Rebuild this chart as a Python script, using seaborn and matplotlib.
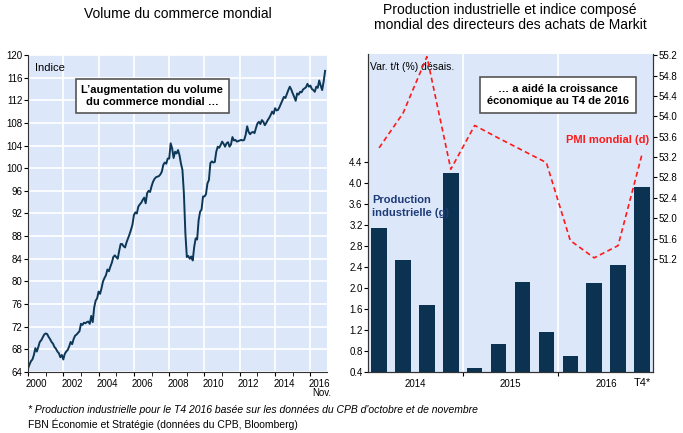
import numpy as np
import pandas as pd
import matplotlib.pyplot as plt
import matplotlib.transforms as mtransforms
import seaborn as sns

# Volume du commerce mondial (indice), mensuel, janv. 2000 - nov. 2016
trade_2000 = [64.6, 65.3, 65.9, 66.2, 67.0, 68.2, 67.6, 68.4, 69.3, 69.6, 70.1, 70.6]
trade_2001 = [70.8, 70.7, 70.2, 69.8, 69.3, 69.0, 68.4, 68.1, 67.6, 67.3, 66.6, 67.0]
trade_2002 = [66.2, 67.2, 67.6, 67.9, 68.5, 69.3, 68.9, 69.8, 70.4, 70.6, 70.9, 71.2]
trade_2003 = [72.5, 72.3, 72.7, 72.6, 72.8, 72.9, 72.5, 73.9, 72.8, 75.4, 76.6, 77.0]
trade_2004 = [78.2, 77.8, 78.8, 80.0, 80.6, 81.1, 82.1, 81.8, 82.6, 83.3, 84.3, 84.6]
trade_2005 = [84.3, 84.0, 85.4, 86.6, 86.6, 86.2, 86.0, 86.9, 87.6, 88.3, 89.1, 90.0]
trade_2006 = [91.7, 92.2, 92.0, 93.2, 93.6, 93.9, 94.4, 94.8, 93.8, 95.6, 96.0, 95.8]
trade_2007 = [96.8, 97.6, 98.1, 98.4, 98.5, 98.6, 98.9, 99.4, 100.6, 101.0, 100.8, 101.7]
trade_2008 = [101.7, 104.4, 103.5, 101.8, 102.9, 102.6, 103.2, 102.3, 100.8, 99.7, 95.5, 88.5]
trade_2009 = [84.3, 84.5, 84.0, 84.4, 83.7, 86.1, 87.6, 87.4, 90.8, 92.3, 92.7, 95.0]
trade_2010 = [95.0, 95.4, 97.3, 97.9, 100.9, 101.2, 101.0, 101.1, 102.9, 103.8, 103.6, 104.1]
trade_2011 = [104.7, 104.3, 103.8, 104.4, 104.6, 103.8, 104.2, 105.5, 104.9, 105.0, 104.7, 104.8]
trade_2012 = [104.9, 105.0, 104.9, 105.0, 105.9, 107.4, 106.4, 106.0, 106.3, 106.4, 106.2, 107.1]
trade_2013 = [107.9, 108.2, 107.8, 108.5, 108.2, 107.6, 108.0, 108.5, 108.9, 109.4, 110.0, 109.6]
trade_2014 = [110.6, 110.2, 110.3, 110.8, 111.4, 112.0, 112.6, 112.4, 113.1, 113.8, 114.4, 113.9]
trade_2015 = [113.2, 112.6, 111.9, 113.2, 113.0, 113.5, 113.4, 113.9, 114.1, 114.3, 114.9, 114.4]
trade_2016 = [114.6, 114.0, 113.8, 113.5, 114.4, 114.2, 115.5, 114.6, 113.8, 115.3, 117.2]

trade = (trade_2000 + trade_2001 + trade_2002 + trade_2003 + trade_2004 + trade_2005
         + trade_2006 + trade_2007 + trade_2008 + trade_2009 + trade_2010 + trade_2011
         + trade_2012 + trade_2013 + trade_2014 + trade_2015 + trade_2016)
trade_df = pd.DataFrame({"annee": 2000 + np.arange(len(trade)) / 12, "indice": trade})

# Production industrielle (var. t/t %) et PMI composé mondial, trimestriel 2014-2016
quarters = ["T1 14", "T2 14", "T3 14", "T4 14", "T1 15", "T2 15", "T3 15", "T4 15",
            "T1 16", "T2 16", "T3 16", "T4 16"]
prod_ind = [3.15, 2.53, 1.67, 4.19, 0.48, 0.94, 2.12, 1.17, 0.71, 2.10, 2.43, 3.93]
pmi = [53.38, 54.06, 55.17, 52.96, 53.82, 53.57, 53.33, 53.09, 51.56, 51.22, 51.46, 53.25]
year_labels = ["2014", "2015", "2016"]

bg = "#dce8fa"
navy = "#0b3250"
narrow = ["Liberation Sans Narrow", "Liberation Sans", "DejaVu Sans"]
plt.rcParams["font.family"] = ["Liberation Sans", "DejaVu Sans"]

fig = plt.figure(figsize=(6.83, 4.33), dpi=100)

# ---- left panel: world trade volume
ax = fig.add_axes([0.041, 0.141, 0.438, 0.732])
ax.set_facecolor(bg)
sns.lineplot(data=trade_df, x="annee", y="indice", ax=ax, color="#0d3756", lw=1.4)
ax.set_xlim(2000, 2016.95)
ax.set_ylim(64, 120)
ax.set_yticks(np.arange(64, 121, 4))
ax.set_xticks(np.arange(2000, 2017, 2))
ax.set_xticklabels([str(y) for y in range(2000, 2017, 2)])
ax.set_xticks(np.arange(2001, 2017, 2), minor=True)
ax.tick_params(axis="x", which="both", length=3, direction="out", pad=2)
ax.tick_params(axis="y", length=3, direction="out", pad=1)
# year labels sit in the middle of the year
shift = mtransforms.ScaledTranslation(0.088, 0, fig.dpi_scale_trans)
for lab in ax.get_xticklabels():
    lab.set_transform(lab.get_transform() + shift)
for lab in ax.get_xticklabels() + ax.get_yticklabels():
    lab.set_family(narrow)
    lab.set_fontsize(7)
ax.grid(True, which="major", color="white", lw=1.2)
ax.set_axisbelow(True)
ax.set_xlabel("")
ax.set_ylabel("")
for s in ["top", "right"]:
    ax.spines[s].set_visible(False)
for s in ["left", "bottom"]:
    ax.spines[s].set_color("#333333")
    ax.spines[s].set_linewidth(0.8)
ax.text(0.025, 0.975, "Indice", transform=ax.transAxes, fontsize=8, va="top")
ax.text(0.415, 0.87, "L’augmentation du volume\ndu commerce mondial …", transform=ax.transAxes,
        fontsize=8, fontweight="bold", ha="center", va="center", linespacing=1.3,
        bbox=dict(boxstyle="square,pad=0.5", fc="white", ec="#555555", lw=1.2))
ax.text(2016.65, -0.052, "Nov.", transform=mtransforms.blended_transform_factory(ax.transData, ax.transAxes),
        fontsize=7, ha="center", va="top", family=narrow)
fig.text(0.261, 0.967, "Volume du commerce mondial", fontsize=10, ha="center", va="center")

# ---- right panel: industrial production (bars) and PMI (dashed)
axr = fig.add_axes([0.539, 0.141, 0.417, 0.734])
axr.set_facecolor(bg)
sns.barplot(x=quarters, y=prod_ind, ax=axr, color=navy, width=0.65, saturation=1)
axr.set_xlim(-0.46, 11.46)
axr.set_ylim(0.4, 6.46)
axr.set_yticks(np.arange(0.4, 4.41, 0.4))
axr.set_yticklabels([f"{v:.1f}" for v in np.arange(0.4, 4.41, 0.4)])
axr.set_xticks([3.5, 7.5])
axr.set_xticklabels([])
axr.set_xticks([1.5, 5.5, 9.5], minor=True)
axr.set_xticklabels(year_labels, minor=True)
axr.tick_params(axis="x", which="minor", length=0, pad=5)
axr.tick_params(axis="x", which="major", length=3, direction="out")
axr.tick_params(axis="y", length=3, direction="out", pad=1)
axr.xaxis.grid(True, which="major", color="white", lw=1.2)
axr.set_axisbelow(True)
for lab in axr.get_xticklabels(minor=True) + axr.get_yticklabels():
    lab.set_family(narrow)
    lab.set_fontsize(7)
axr.set_xlabel("")
axr.set_ylabel("")
axr.spines["top"].set_visible(False)
for s in ["left", "bottom", "right"]:
    axr.spines[s].set_color("#333333")
    axr.spines[s].set_linewidth(0.8)
axr.text(11, -0.02, "T4*", transform=mtransforms.blended_transform_factory(axr.transData, axr.transAxes),
         fontsize=8, ha="center", va="top")
axr.text(0.005, 0.975, "Var. t/t (%) désais.", transform=axr.transAxes, fontsize=7.5, va="top")
axr.text(0.015, 0.52, "Production\nindustrielle (g)", transform=axr.transAxes, fontsize=8,
         fontweight="bold", color="#1f3b78", va="center", linespacing=1.3)

ax2 = axr.twinx()
sns.lineplot(x=np.arange(len(pmi)), y=pmi, ax=ax2, color="#ff1a1a", lw=1.2)
ax2.lines[-1].set_dashes([3, 2])
ax2.set_ylim(48.98, 55.22)
ax2.set_yticks(np.arange(51.2, 55.21, 0.4))
ax2.set_yticklabels([f"{v:.1f}" for v in np.arange(51.2, 55.21, 0.4)])
ax2.tick_params(axis="y", length=3, direction="out", pad=1)
for lab in ax2.get_yticklabels():
    lab.set_family(narrow)
    lab.set_fontsize(7)
ax2.set_ylabel("")
ax2.spines["top"].set_visible(False)
for s in ["left", "bottom", "right"]:
    ax2.spines[s].set_color("#333333")
    ax2.spines[s].set_linewidth(0.8)
ax2.text(0.985, 0.73, "PMI mondial (d)", transform=ax2.transAxes, fontsize=8,
         fontweight="bold", color="#ff1a1a", ha="right", va="center")
ax2.text(0.667, 0.872, "… a aidé la croissance\néconomique au T4 de 2016", transform=ax2.transAxes,
         fontsize=8, fontweight="bold", ha="center", va="center", linespacing=1.3,
         bbox=dict(boxstyle="square,pad=0.6", fc="white", ec="#555555", lw=1.2))
fig.text(0.747, 0.994, "Production industrielle et indice composé\nmondial des directeurs des achats de Markit",
         fontsize=10, ha="center", va="top", linespacing=1.15)

# ---- notes
fig.text(0.041, 0.053, "* Production industrielle pour le T4 2016 basée sur les données du CPB d'octobre et de novembre",
         fontsize=7.5, style="italic", va="center")
fig.text(0.041, 0.021, "FBN Économie et Stratégie (données du CPB, Bloomberg)", fontsize=7.5, va="center")

fig.savefig("out.png", dpi=100)
